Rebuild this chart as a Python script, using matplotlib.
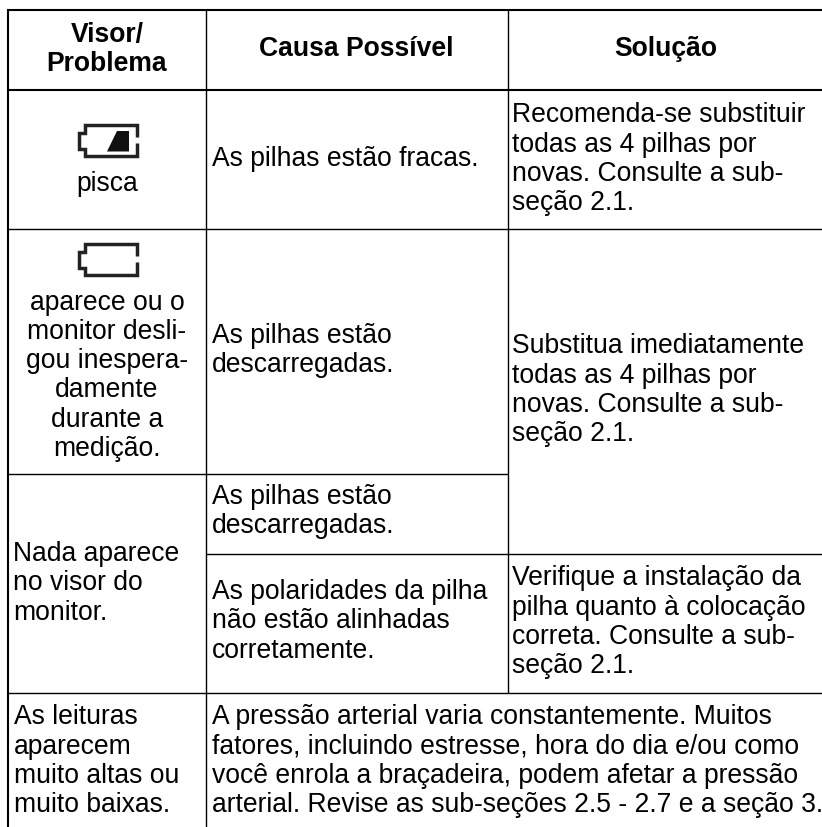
import matplotlib
matplotlib.use("Agg")
import matplotlib.pyplot as plt
from matplotlib.patches import Polygon

W, H = 822, 827
FONT = "Liberation Sans"
FS = 19.1
LS = 1.165
PITCH = 29.4

headers = [(107, 42, "Visor/\nProblema"), (356, 56, "Causa Possível"), (666, 56, "Solução")]
cells = [
    (107, 191, "center", "pisca"),
    (107, 309, "center", "aparece ou o\nmonitor desli-\ngou inespera-\ndamente\ndurante a\nmedição."),
    (13, 561, "left", "Nada aparece\nno visor do\nmonitor."),
    (13.5, 724, "left", "As leituras\naparecem\nmuito altas ou\nmuito baixas."),
    (212, 166, "left", "As pilhas estão fracas."),
    (212, 342.5, "left", "As pilhas estão\ndescarregadas."),
    (212, 504, "left", "As pilhas estão\ndescarregadas."),
    (212, 599, "left", "As polaridades da pilha\nnão estão alinhadas\ncorretamente."),
    (212, 724, "left", "A pressão arterial varia constantemente. Muitos\nfatores, incluindo estresse, hora do dia e/ou como\nvocê enrola a braçadeira, podem afetar a pressão\narterial. Revise as sub-seções 2.5 - 2.7 e a seção 3."),
    (512, 122, "left", "Recomenda-se substituir\ntodas as 4 pilhas por\nnovas. Consulte a sub-\nseção 2.1."),
    (512, 353, "left", "Substitua imediatamente\ntodas as 4 pilhas por\nnovas. Consulte a sub-\nseção 2.1."),
    (512, 585, "left", "Verifique a instalação da\npilha quanto à colocação\ncorreta. Consulte a sub-\nseção 2.1."),
]
# (x0, x1, y, width)
h_rules = [(7.3, 822, 10, 1.5), (7.3, 822, 89.5, 1.5), (7.3, 822, 228.5, 1.0), (7.3, 507.5, 473.5, 1.0),
           (205.5, 822, 553.5, 1.0), (7.3, 822, 692.5, 1.0)]
# (x, y0, y1, width)
v_rules = [(8.3, 9, 827, 1.5), (205.5, 10, 827, 1.0), (507.5, 10, 692.5, 1.0)]
battery_tops = [123, 242]

fig = plt.figure(figsize=(W / 100, H / 100), dpi=100)
ax = fig.add_axes([0, 0, 1, 1])
ax.set_xlim(0, W)
ax.set_ylim(H, 0)
ax.axis("off")

for x0, x1, y, lw in h_rules:
    ax.plot([x0, x1], [y, y], color="black", lw=lw, solid_capstyle="butt")
for x, y0, y1, lw in v_rules:
    ax.plot([x, x], [y0, y1], color="black", lw=lw, solid_capstyle="butt")


def last_baseline(y, s):
    return y + PITCH * s.count("\n")


for x, y, s in headers:
    ax.text(x, last_baseline(y, s), s, ha="center", va="baseline", ma="center", family=FONT,
            fontsize=FS, fontweight="bold", linespacing=LS)
for x, y, ha, s in cells:
    ax.text(x, last_baseline(y, s), s, ha=ha, va="baseline", ma=ha, family=FONT, fontsize=FS,
            linespacing=LS)


def battery(top, filled):
    lw = 2.5
    t = top
    ax.plot([136.5, 136.5, 84.5, 84.5, 78.5, 78.5, 84.5, 84.5, 136.5, 136.5],
            [t + 14, t + 1.7, t + 1.7, t + 10, t + 10, t + 26, t + 26, t + 33.3, t + 33.3, t + 20],
            color="#222222", lw=lw, solid_joinstyle="miter", solid_capstyle="butt")
    if filled:
        ax.add_patch(Polygon([(107, t + 28.5), (117, t + 8), (129, t + 8), (129, t + 28.5)],
                             closed=True, color="#111111", lw=0))


battery(battery_tops[0], True)
battery(battery_tops[1], False)

fig.savefig("out.png", dpi=100)
